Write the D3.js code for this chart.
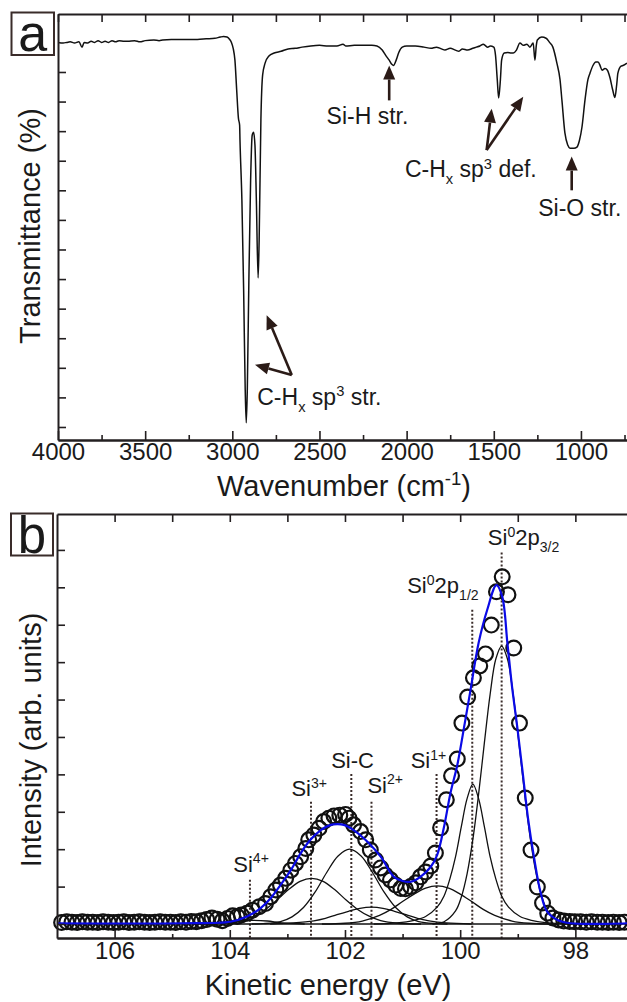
<!DOCTYPE html>
<html>
<head>
<meta charset="utf-8">
<script src="https://cdn.jsdelivr.net/npm/d3@7"></script>
<style>
body { margin: 0; background: #fff; }
svg text { font-family: "Liberation Sans", Arial, sans-serif; fill: #1a1a1a; }
</style>
</head>
<body>
<script>
// ---------- panel a : FTIR spectrum ----------
var wavenumber = [4000,3970,3950,3930,3905,3880,3862,3850,3830,3810,3790,3770,3750,3730,3710,3690,3670,3650,3620,3600,3560,3530,3500,3450,3420,3400,3350,3300,3250,3200,3150,3100,3070,3050,3030,3015,3005,2995,2985,2975,2965,2958,2956,2945,2935,2926,2920,2914,2905,2895,2886,2878,2870,2862,2852,2846,2836,2826,2812,2790,2760,2720,2680,2640,2600,2550,2500,2450,2400,2365,2350,2300,2250,2200,2170,2140,2120,2100,2085,2075,2060,2045,2025,2000,1950,1900,1860,1830,1800,1780,1750,1720,1700,1680,1650,1620,1600,1580,1560,1550,1535,1520,1500,1490,1480,1472,1462,1455,1440,1420,1400,1388,1370,1350,1330,1310,1293,1274,1264,1256,1250,1225,1200,1180,1161,1138,1120,1109,1092,1075,1063,1040,1023,1008,994,977,960,948,931,915,902,889,879,862,848,834,818,805,795,788,770,759,736]
var transmittance = [65.0,64.9,65.0,65.1,64.9,65.1,64.2,65.0,64.9,65.2,65.0,65.3,65.0,65.2,65.0,65.3,65.1,65.3,65.2,65.2,65.3,65.1,65.3,65.4,65.3,65.4,65.5,65.5,65.5,65.5,65.6,65.7,65.9,66.0,65.9,65.5,65.0,64.0,62.0,57.0,52.2,51.0,48.5,38.3,23.1,6.3,0.7,6.3,24.8,41.7,49.3,49.8,47.6,38.3,25.2,31.6,51.9,59.5,61.5,62.7,63.2,63.5,63.9,64.0,64.2,64.4,64.5,64.4,64.4,64.7,64.4,64.5,64.5,64.5,64.4,63.7,62.8,62.0,61.3,61.1,62.0,63.3,64.2,64.4,64.4,64.2,64.0,64.2,63.9,63.7,64.0,63.7,63.5,63.9,63.7,64.0,64.2,64.4,64.7,64.5,64.2,64.4,64.2,62.8,58.7,55.6,58.7,62.0,63.2,63.3,63.2,63.2,63.7,64.9,64.5,64.7,64.2,64.9,62.0,64.5,65.4,65.9,65.7,65.0,64.2,61.5,58.7,55.2,49.7,47.6,47.1,47.1,47.3,48.5,50.7,55.2,58.7,59.8,61.1,61.7,61.7,61.0,60.3,60.6,60.3,59.1,57.0,55.7,57.8,59.8,61.0,61.1,61.5]
var irMajorTicks = [4000, 3500, 3000, 2500, 2000, 1500, 1000]
var irMinorTicks = [3750, 3250, 2750, 2250, 1750, 1250, 750]
var irLeftTicks = [0, 5, 10, 15, 20, 25, 30, 35, 40, 45, 50, 55, 60]

// annotations: [text parts, label wavenumber, label T, arrow tail, arrow tips]
var irNotes = [
  { parts: [{t: "Si-H str."}], w: 2459, t: 51.2, tail: [2100, 55.2], tips: [[2100, 61.1]] },
  { parts: [{t: "C-H"}, {t: "x", sub: true}, {t: " sp"}, {t: "3", sup: true}, {t: " def."}], w: 2010, t: 42.2, tail: [1541, 46.8], tips: [[1512, 53.8], [1331, 55.8]] },
  { parts: [{t: "Si-O str."}], w: 1245, t: 35.6, tail: [1053, 40.0], tips: [[1053, 45.7]] },
  { parts: [{t: "C-H"}, {t: "x", sub: true}, {t: " sp"}, {t: "3", sup: true}, {t: " str."}], w: 2857, t: 3.7, tail: [2659, 8.8], tips: [[2803, 18.9], [2870, 10.5]] }
]

// ---------- panel b : Si 2p photoemission ----------
var energy = [106.92,106.83,106.74,106.65,106.56,106.47,106.38,106.29,106.20,106.11,106.02,105.93,105.84,105.75,105.66,105.57,105.48,105.39,105.30,105.21,105.12,105.03,104.94,104.85,104.76,104.67,104.58,104.49,104.40,104.31,104.22,104.13,104.04,103.95,
  103.87,103.80,103.70,103.61,103.49,103.38,103.29,103.20,103.12,103.03,102.94,102.86,102.77,102.68,102.63,102.54,102.45,102.37,102.28,102.19,102.09,101.99,101.93,101.85,101.73,101.64,101.56,101.47,101.38,101.30,101.21,101.12,101.03,100.95,100.86,100.77,100.69,100.60,100.51,100.43,100.34,100.24,100.15,100.05,99.97,99.87,99.77,99.66,99.56,99.46,99.37,99.27,99.17,99.07,98.97,98.87,98.77,98.66,98.57,98.48,98.39,98.29,
  98.20,98.10,98.01,97.91,97.81,97.72,97.62,97.53,97.43,97.34,97.24,97.15]
var intensity = [0.04,0.06,0.05,0.04,0.06,0.05,0.05,0.04,0.06,0.05,0.04,0.05,0.06,0.04,0.05,0.06,0.05,0.04,0.05,0.06,0.05,0.05,0.04,0.06,0.05,0.07,0.06,0.09,0.12,0.16,0.13,0.09,0.15,0.22,
  0.20,0.24,0.29,0.37,0.46,0.55,0.73,0.91,1.04,1.22,1.44,1.62,1.80,2.02,2.25,2.38,2.56,2.74,2.83,2.89,2.91,2.93,2.83,2.65,2.47,2.25,1.98,1.71,1.50,1.31,1.18,1.04,0.95,0.94,1.00,1.10,1.26,1.39,1.55,1.90,2.57,3.32,3.96,4.41,5.37,6.07,6.58,6.90,7.22,7.99,8.88,9.28,8.80,7.38,5.37,3.37,1.98,0.99,0.56,0.29,0.16,0.11,
  0.08,0.07,0.06,0.06,0.05,0.06,0.05,0.05,0.04,0.05,0.04,0.05]

var fitEnergy = [107.0,104.85,103.99,103.70,103.47,103.29,103.12,102.94,102.77,102.60,102.42,102.25,102.13,102.02,101.85,101.61,101.38,101.15,101.00,100.86,100.69,100.51,100.40,100.28,100.17,100.05,99.92,99.82,99.68,99.53,99.37,99.27,99.18,99.10,99.01,98.92,98.82,98.72,98.60,98.49,98.31,98.08,97.10]
var fitIntensity = [0.02,0.02,0.06,0.20,0.42,0.69,1.04,1.44,1.89,2.25,2.51,2.65,2.67,2.65,2.51,2.20,1.80,1.26,1.15,1.13,1.26,1.53,1.84,2.60,3.49,4.25,5.37,6.26,7.51,8.40,9.06,8.75,7.51,6.35,5.28,4.12,2.80,1.80,0.82,0.33,0.11,0.02,0.02]

var background = [[107.0, 0], [97.1, 0]]
var compSi4 = [[104.6,0],[104.2,0.03],[103.95,0.08],[103.65,0.10],[103.35,0.08],[103.1,0.03],[102.7,0]]
var compSi3 = [[104.48,0],[104.08,0.02],[103.78,0.09],[103.58,0.21],[103.38,0.39],[103.18,0.64],[102.98,0.92],[102.78,1.14],[102.58,1.22],[102.38,1.14],[102.18,0.92],[101.98,0.64],[101.78,0.39],[101.58,0.21],[101.38,0.09],[101.08,0.02],[100.68,0]]
var compSiC = [[103.62,0],[103.42,0.01],[103.12,0.065],[102.92,0.19],[102.72,0.44],[102.52,0.85],[102.32,1.37],[102.12,1.82],[101.92,2.0],[101.72,1.82],[101.52,1.37],[101.32,0.85],[101.12,0.44],[100.92,0.19],[100.72,0.065],[100.42,0.01],[100.22,0]]
var compSi2 = [[103.3,0],[102.9,0.03],[102.54,0.085],[102.34,0.15],[102.14,0.25],[101.94,0.34],[101.74,0.42],[101.54,0.45],[101.34,0.42],[101.14,0.34],[100.94,0.25],[100.74,0.15],[100.54,0.085],[100.24,0.03],[99.8,0]]
var compSi1 = [[102.4,0],[102.0,0.02],[101.7,0.08],[101.4,0.23],[101.2,0.39],[101.0,0.6],[100.8,0.8],[100.6,0.96],[100.4,1.02],[100.2,0.96],[100.0,0.8],[99.8,0.6],[99.6,0.39],[99.4,0.23],[99.1,0.08],[98.8,0.02],[98.4,0]]
var compSi0half = [[101.5,0],[101.1,0.03],[100.8,0.1],[100.6,0.2],[100.4,0.45],[100.28,0.75],[100.18,1.2],[100.08,1.8],[99.98,2.6],[99.88,3.35],[99.78,3.74],[99.68,3.35],[99.58,2.6],[99.48,1.8],[99.38,1.2],[99.28,0.75],[99.16,0.45],[98.96,0.2],[98.76,0.1],[98.46,0.03],[98.06,0]]
var compSi0threehalf = [[100.48,0],[100.28,0.06],[100.08,0.35],[99.98,0.72],[99.88,1.34],[99.78,2.26],[99.68,3.47],[99.58,4.84],[99.48,6.14],[99.38,7.09],[99.28,7.43],[99.18,7.09],[99.08,6.14],[98.98,4.84],[98.88,3.47],[98.78,2.26],[98.68,1.34],[98.58,0.72],[98.48,0.35],[98.28,0.06],[98.08,0]]

// dotted marker lines: energy, top of line, label parts, label position
var markers = [
  { e: 103.65, top: 1.18, lx: 103.94, ly: 1.40, parts: [{t: "Si"}, {t: "4+", sup: true}] },
  { e: 102.59, top: 3.27, lx: 102.93, ly: 3.42, parts: [{t: "Si"}, {t: "3+", sup: true}] },
  { e: 101.89, top: 4.01, lx: 102.24, ly: 4.16, parts: [{t: "Si-C"}] },
  { e: 101.54, top: 3.27, lx: 101.61, ly: 3.51, parts: [{t: "Si"}, {t: "2+", sup: true}] },
  { e: 100.41, top: 4.01, lx: 100.86, ly: 4.16, parts: [{t: "Si"}, {t: "1+", sup: true}] },
  { e: 99.79, top: 8.40, lx: 100.92, ly: 8.84, parts: [{t: "Si"}, {t: "0", sup: true}, {t: "2p"}, {t: "1/2", sub: true}] },
  { e: 99.28, top: 9.93, lx: 99.52, ly: 10.13, parts: [{t: "Si"}, {t: "0", sup: true}, {t: "2p"}, {t: "3/2", sub: true}] }
]
var xpsMajorTicks = [106, 104, 102, 100, 98]
var xpsMinorTicks = [105, 103, 101, 99, 97]
var xpsTopTicks = [106, 105, 104, 103, 102, 101, 100, 99, 98, 97]
var xpsLeftTicks = [0, 1, 2, 3, 4, 5, 6, 7, 8, 9, 10]

var ink = "#231f20"
var arrowInk = "#2b1b17"

var svg = d3.select("body").append("svg")
    .attr("width", 627)
    .attr("height", 1002)

function styleAxis(g, size) {
    g.select(".domain").attr("stroke", ink).attr("stroke-width", 2)
    g.selectAll(".tick line").attr("stroke", ink).attr("stroke-width", 1.6)
    g.attr("font-size", size || 24).attr("font-family", "Liberation Sans, Arial, sans-serif")
    g.selectAll(".tick text").attr("fill", "#1a1a1a")
}

function richText(g, x, y, parts, size, anchor) {
    var t = g.append("text").attr("x", x).attr("y", y)
        .attr("font-size", size).attr("text-anchor", anchor || "start")
    var shift = 0
    parts.forEach(p => {
        var target = p.sub ? size * 0.3 : p.sup ? -size * 0.38 : 0
        t.append("tspan").attr("dy", target - shift)
            .attr("font-size", (p.sub || p.sup) ? size * 0.64 : size)
            .text(p.t)
        shift = target
    })
    return t
}

function drawArrow(g, x1, y1, x2, y2) {
    var ang = Math.atan2(y2 - y1, x2 - x1), L = 14, hw = 6
    var bx = x2 - L * Math.cos(ang), by = y2 - L * Math.sin(ang)
    g.append("line").attr("x1", x1).attr("y1", y1).attr("x2", bx).attr("y2", by)
        .attr("stroke", arrowInk).attr("stroke-width", 2.6)
    g.append("path")
        .attr("d", "M" + x2 + "," + y2 +
            " L" + (bx + hw * Math.sin(ang)) + "," + (by - hw * Math.cos(ang)) +
            " L" + (bx - hw * Math.sin(ang)) + "," + (by + hw * Math.cos(ang)) + " Z")
        .attr("fill", arrowInk)
}

function panelLabel(x, y, s, letter, size, base) {
    svg.append("rect").attr("x", x).attr("y", y).attr("width", s).attr("height", s)
        .attr("fill", "#fff").attr("stroke", "#3a2c2a").attr("stroke-width", 2)
    svg.append("text").attr("x", x + s / 2).attr("y", base).attr("text-anchor", "middle")
        .attr("font-size", size).text(letter)
}

// ================= panel a =================
var xA = d3.scaleLinear().domain([4000, 730]).range([58, 628])
var yA = d3.scaleLinear().domain([-2.2, 69.8]).range([440, 14])
var gA = svg.append("g")

gA.append("path")
    .datum(transmittance)
    .attr("d", d3.line().x((d, i) => xA(wavenumber[i])).y(d => yA(d)).curve(d3.curveMonotoneX))
    .attr("fill", "none")
    .attr("stroke", "#111")
    .attr("stroke-width", 1.5)

gA.append("g").attr("transform", "translate(0,440)")
    .call(d3.axisBottom(xA).tickValues(irMajorTicks).tickSize(-9).tickSizeOuter(0).tickPadding(3).tickFormat(d3.format("d")))
    .call(g => styleAxis(g))
gA.append("g").attr("transform", "translate(0,440)")
    .call(d3.axisBottom(xA).tickValues(irMinorTicks).tickSize(-5).tickSizeOuter(0).tickFormat(""))
    .call(g => styleAxis(g))
gA.append("g").attr("transform", "translate(0,14)")
    .call(d3.axisTop(xA).tickValues(irMajorTicks.concat(irMinorTicks)).tickSize(-8).tickSizeOuter(0).tickFormat(""))
    .call(g => styleAxis(g))
gA.append("g").attr("transform", "translate(58,0)")
    .call(d3.axisLeft(yA).tickValues(irLeftTicks).tickSize(-8).tickSizeOuter(0).tickFormat(""))
    .call(g => styleAxis(g))

irNotes.forEach(n => {
    n.tips.forEach(tp => drawArrow(gA, xA(n.tail[0]), yA(n.tail[1]), xA(tp[0]), yA(tp[1])))
    richText(gA, xA(n.w), yA(n.t), n.parts, 23)
})

gA.append("text").attr("transform", "translate(40,226) rotate(-90)")
    .attr("text-anchor", "middle").attr("font-size", 29).text("Transmittance (%)")
richText(svg, 344, 496, [{t: "Wavenumber (cm"}, {t: "-1", sup: true}, {t: ")"}], 29, "middle")

panelLabel(11.5, 12.5, 42.5, "a", 52, 50.5)

// ================= panel b =================
var xB = d3.scaleLinear().domain([107, 97.1]).range([57, 627.2])
var yB = d3.scaleLinear().domain([-0.374, 10.96]).range([938, 514])
var gB = svg.append("g")

// dotted position lines
gB.selectAll(".marker").data(markers).enter().append("line")
    .attr("x1", d => xB(d.e)).attr("x2", d => xB(d.e))
    .attr("y1", d => yB(d.top)).attr("y2", yB.range()[0])
    .attr("stroke", "#3a2c2a").attr("stroke-width", 2).attr("stroke-dasharray", "2,2")

// measured points
gB.selectAll("circle").data(intensity).enter().append("circle")
    .attr("cx", (d, i) => xB(energy[i]))
    .attr("cy", d => yB(d))
    .attr("r", 7.4)
    .attr("fill", "none")
    .attr("stroke", "#111")
    .attr("stroke-width", 2.2)

// fitted components
var compLine = d3.line().x(d => xB(d[0])).y(d => yB(d[1])).curve(d3.curveCatmullRom.alpha(0.5))
var comps = [background, compSi4, compSi3, compSiC, compSi2, compSi1, compSi0half, compSi0threehalf]
gB.selectAll(".comp").data(comps).enter().append("path")
    .attr("d", compLine)
    .attr("fill", "none")
    .attr("stroke", "#111")
    .attr("stroke-width", 1.3)

// envelope
gB.append("path")
    .datum(fitIntensity)
    .attr("d", d3.line().x((d, i) => xB(fitEnergy[i])).y(d => yB(d)).curve(d3.curveCatmullRom.alpha(0.5)))
    .attr("fill", "none")
    .attr("stroke", "#0a0ae6")
    .attr("stroke-width", 2.2)

markers.forEach(m => richText(gB, xB(m.lx), yB(m.ly), m.parts, 22))

gB.append("g").attr("transform", "translate(0,938)")
    .call(d3.axisBottom(xB).tickValues(xpsMajorTicks).tickSize(-8).tickSizeOuter(0).tickPadding(4).tickFormat(d3.format("d")))
    .call(g => styleAxis(g))
gB.append("g").attr("transform", "translate(0,938)")
    .call(d3.axisBottom(xB).tickValues(xpsMinorTicks).tickSize(-4).tickSizeOuter(0).tickFormat(""))
    .call(g => styleAxis(g))
gB.append("g").attr("transform", "translate(0,514)")
    .call(d3.axisTop(xB).tickValues(xpsTopTicks).tickSize(-8).tickSizeOuter(0).tickFormat(""))
    .call(g => styleAxis(g))
gB.append("g").attr("transform", "translate(57,0)")
    .call(d3.axisLeft(yB).tickValues(xpsLeftTicks).tickSize(-8).tickSizeOuter(0).tickFormat(""))
    .call(g => styleAxis(g))

gB.append("text").attr("transform", "translate(41,740) rotate(-90)")
    .attr("text-anchor", "middle").attr("font-size", 29).text("Intensity (arb. units)")
gB.append("text").attr("x", 328).attr("y", 995)
    .attr("text-anchor", "middle").attr("font-size", 29).text("Kinetic energy (eV)")

panelLabel(11, 513.5, 42, "b", 51, 553)
</script>
</body>
</html>
